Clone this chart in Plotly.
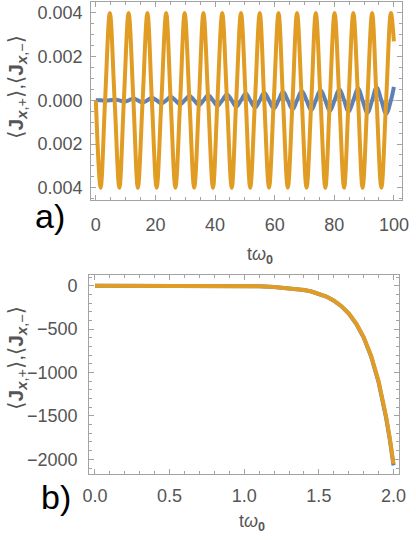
import plotly.graph_objects as go

# panel a) - sample times read at quarter periods, t*omega_0
t_a = [0, 1.6, 3.1, 4.7, 6.3, 7.9, 9.4, 11.0, 12.6, 14.1, 15.7, 17.3, 18.8, 20.4, 22.0, 23.6,
       25.1, 26.7, 28.3, 29.8, 31.4, 33.0, 34.6, 36.1, 37.7, 39.3, 40.8, 42.4, 44.0, 45.6, 47.1, 48.7,
       50.3, 51.8, 53.4, 55.0, 56.5, 58.1, 59.7, 61.3, 62.8, 64.4, 66.0, 67.5, 69.1, 70.7, 72.3, 73.8,
       75.4, 77.0, 78.5, 80.1, 81.7, 83.3, 84.8, 86.4, 88.0, 89.5, 91.1, 92.7, 94.2, 95.8, 97.4, 99.0,
       100.0]

# <J_x,-> (orange)
jm_a = [0, -0.004, 0, 0.004, 0, -0.004, 0, 0.004, 0, -0.004, 0, 0.004, 0, -0.004, 0, 0.004,
        0, -0.004, 0, 0.004, 0, -0.004, 0, 0.004, 0, -0.004, 0, 0.004, 0, -0.004, 0, 0.004,
        0, -0.004, 0, 0.004, 0, -0.004, 0, 0.004, 0, -0.004, 0, 0.004, 0, -0.004, 0, 0.004,
        0, -0.004, 0, 0.004, 0, -0.004, 0, 0.004, 0, -0.004, 0, 0.004, 0, -0.004, 0, 0.004,
        0.0027]

# <J_x,+> (blue), slowly growing
jp_a = [0, 0, -0.00002, 0, 0.00004, 0, -0.00006, 0, 0.00008, 0, -0.0001, 0, 0.00012, 0, -0.00014, 0,
        0.00016, 0, -0.00018, 0, 0.0002, 0, -0.00021, 0, 0.00023, 0, -0.00025, 0, 0.00027, 0, -0.00029, 0,
        0.00031, 0, -0.00033, 0, 0.00035, 0, -0.00037, 0, 0.00039, 0, -0.00041, 0, 0.00043, 0, -0.00045, 0,
        0.00047, 0, -0.00049, 0, 0.00051, 0, -0.00053, 0, 0.00055, 0, -0.00057, 0, 0.00059, 0, -0.00061, 0,
        0.00062]

# panel b)
t_b = [0, 0.25, 0.5, 0.75, 1.0, 1.1, 1.2, 1.3, 1.35, 1.4, 1.45, 1.5, 1.55, 1.6, 1.65, 1.7,
       1.75, 1.8, 1.85, 1.9, 1.925, 1.95, 1.975, 2.0]
jm_b = [0, 0, -0.2, -0.9, -4, -8, -14, -26, -36, -49, -67, -92, -125, -171, -233, -318,
        -433, -591, -807, -1101, -1287, -1504, -1755, -2050]
jp_b = [0, 0, -0.2, -0.9, -4, -8, -14, -26, -36, -49, -67, -92, -126, -173, -236, -322,
        -438, -598, -816, -1113, -1300, -1520, -1772, -2070]

ticks_a_y = [-0.004, -0.002, 0, 0.002, 0.004]
ticks_a_ytext = ['0.004', '0.002', '0.000', '0.002', '0.004']
ticks_b_x = [0, 0.5, 1.0, 1.5, 2.0]
ticks_b_xtext = ['0.0', '0.5', '1.0', '1.5', '2.0']

blue = '#5E81B5'
orange = '#E19C24'
frame = '#a3a3a3'
txt = '#555555'
W, H = 416, 540

fig = go.Figure()
fig.add_trace(go.Scatter(x=t_a, y=jp_a, mode='lines', line=dict(color=blue, width=4, shape='spline'),
                         xaxis='x', yaxis='y'))
fig.add_trace(go.Scatter(x=t_a, y=jm_a, mode='lines', line=dict(color=orange, width=4, shape='spline'),
                         xaxis='x', yaxis='y'))
fig.add_trace(go.Scatter(x=t_b, y=jp_b, mode='lines', line=dict(color=blue, width=4),
                         xaxis='x2', yaxis='y2'))
fig.add_trace(go.Scatter(x=t_b, y=jm_b, mode='lines', line=dict(color=orange, width=4),
                         xaxis='x2', yaxis='y2'))

def px_x(v):
    return v / W

def px_y(v):
    return 1 - v / H

axis_style = dict(showline=True, linecolor=frame, linewidth=1, mirror='allticks', ticks='inside',
                  ticklen=5, tickcolor=frame, showgrid=False,
                  tickfont=dict(family='Liberation Sans', size=18, color=txt))

fig.update_layout(
    width=W, height=H, margin=dict(l=0, r=0, t=0, b=0),
    paper_bgcolor='white', plot_bgcolor='white', showlegend=False,
    xaxis=dict(domain=[px_x(87), px_x(409)], range=[-1.6, 102.8], anchor='y',
               tickvals=[0, 20, 40, 60, 80, 100], zeroline=False,
               minor=dict(dtick=5, ticks='inside', ticklen=3, tickcolor=frame),
               ticklabelstandoff=8, **axis_style),
    yaxis=dict(domain=[px_y(200), px_y(2)], range=[-0.00456, 0.0045], anchor='x',
               tickvals=ticks_a_y, ticktext=ticks_a_ytext,
               zeroline=True, zerolinecolor='#b8b8b8', zerolinewidth=1,
               minor=dict(dtick=0.0005, ticks='inside', ticklen=3, tickcolor=frame),
               ticklabelstandoff=4, **axis_style),
    xaxis2=dict(domain=[px_x(85), px_x(406)], range=[-0.039, 2.039], anchor='y2',
                tickvals=ticks_b_x, ticktext=ticks_b_xtext, zeroline=False,
                minor=dict(dtick=0.1, ticks='inside', ticklen=3, tickcolor=frame),
                ticklabelstandoff=5, **axis_style),
    yaxis2=dict(domain=[px_y(474), px_y(275)], range=[-2169, 123], anchor='x2',
                tickvals=[-2000, -1500, -1000, -500, 0], zeroline=False,
                minor=dict(dtick=100, ticks='inside', ticklen=3, tickcolor=frame),
                ticklabelstandoff=7, **axis_style),
)

ylab = ('⟨<b>J</b><sub><b><i>x</i></b>,+</sub>⟩,'
        '⟨<b>J</b><sub><b><i>x</i></b>,−</sub>⟩')
xlab = 't<i>ω</i><sub><b>0</b></sub>'

notes = [
    (10, 87, ylab, 21, txt, -90),
    (10, 358, ylab, 21, txt, -90),
    (262, 255, xlab, 18, txt, 0),
    (254, 522, xlab, 18, txt, 0),
    (44, 216, 'a)', 34, 'black', 0),
    (51, 497, 'b)', 34, 'black', 0),
]
for x, y, s, size, col, ang in notes:
    fig.add_annotation(x=px_x(x), y=px_y(y), xref='paper', yref='paper', text=s, showarrow=False,
                       xanchor='center', yanchor='middle', textangle=ang,
                       font=dict(family='Liberation Sans, DejaVu Sans', size=size, color=col))

# page has a default 8px body margin; drop it so the figure fills the window
fig.write_html("out.html", config={'displayModeBar': False},
               post_script="document.body.style.margin='0';")
